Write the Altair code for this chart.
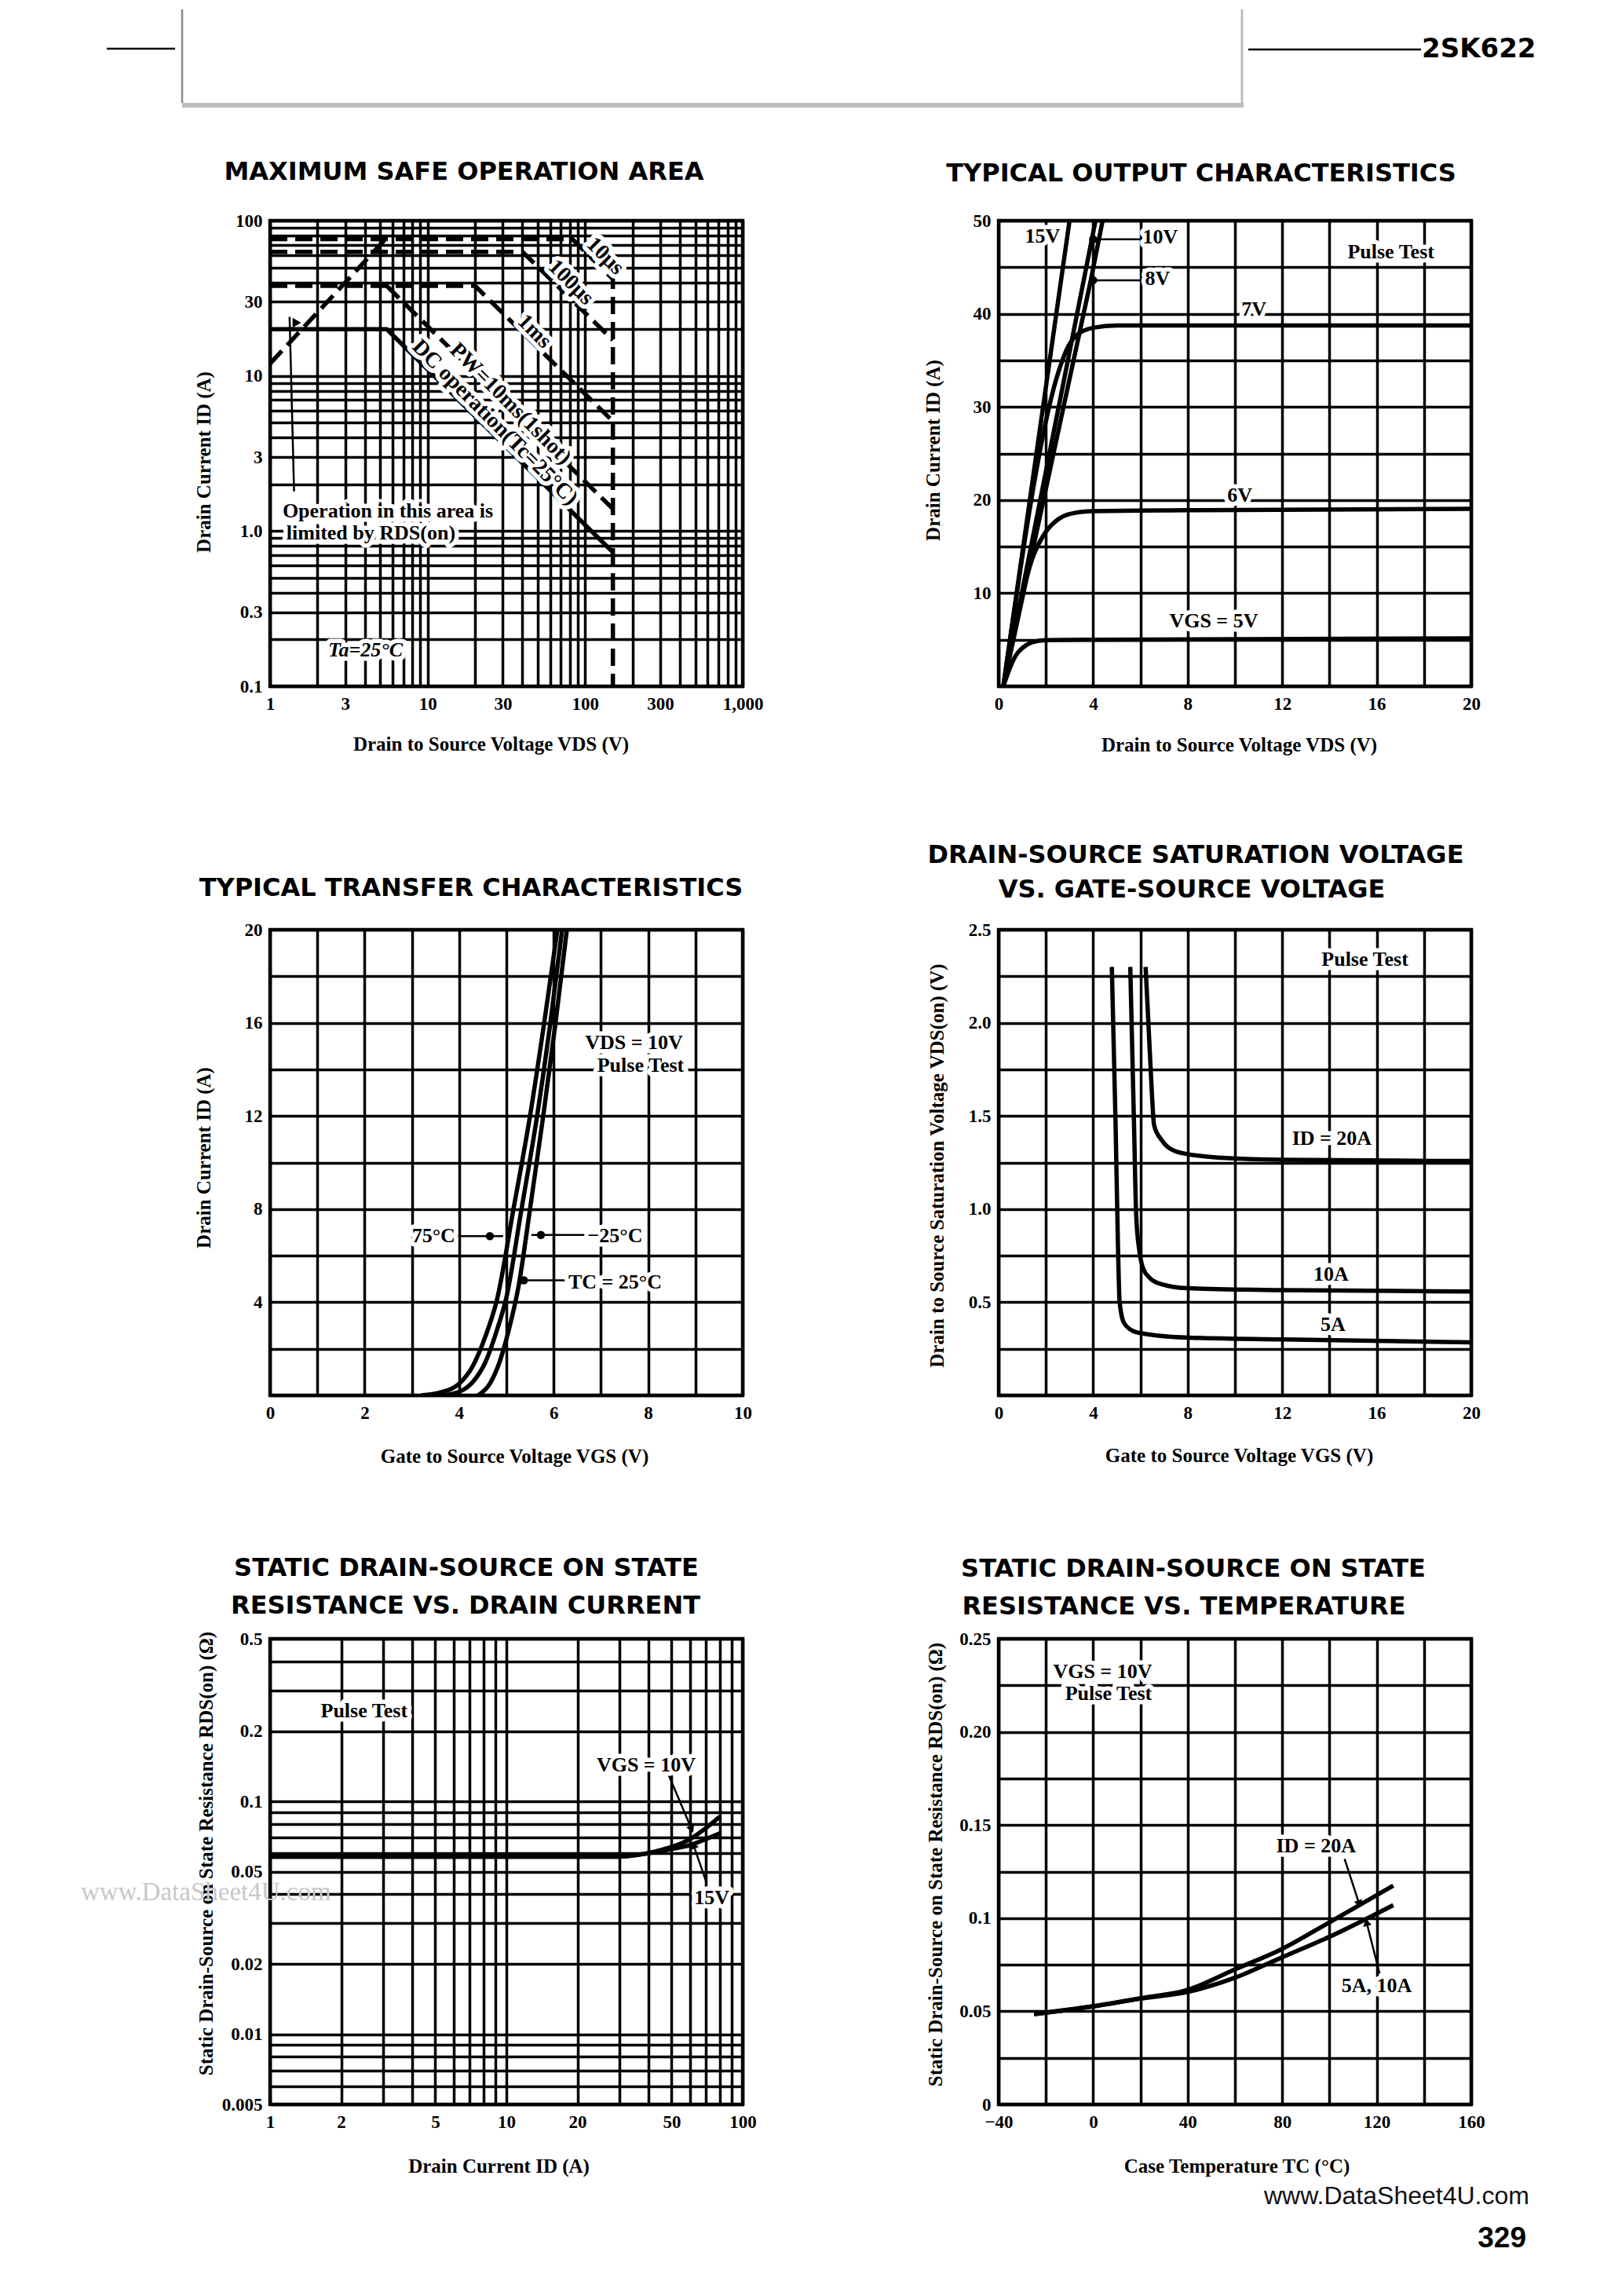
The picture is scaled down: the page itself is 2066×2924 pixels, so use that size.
import altair as alt
import pandas as pd

# ============ DATA ============
# 1. Maximum safe operation area (log-log)
SOA_RDS_V = [1, 5.4]
SOA_RDS_I = [12, 76]
SOA_10US_V = [1, 83, 150, 150]
SOA_10US_I = [76, 76, 42, 0.1]
SOA_100US_V = [1, 40, 150]
SOA_100US_I = [63, 63, 17]
SOA_1MS_V = [1, 20, 150]
SOA_1MS_I = [38, 38, 5.1]
SOA_10MS_V = [5.5, 150]
SOA_10MS_I = [38, 1.39]
SOA_DC_V = [1, 5.5, 150]
SOA_DC_I = [20, 20, 0.73]
SOA_LEAD_V = [1.42, 1.33]
SOA_LEAD_I = [1.8, 24]
SOA_ARROW_V = [1.48]
SOA_ARROW_I = [22]
SOA_ROT_TEXT = ["10μs", "100μs", "1ms", "PW=10ms(1shot)", "DC operation(Tc=25°C)"]
SOA_ROT_V = [134, 81, 47.6, 33.5, 26.7]
SOA_ROT_I = [59, 40, 19.3, 6.6, 5.0]
SOA_NOTE_TEXT = ["Operation in this area is", "limited by RDS(on)"]
SOA_NOTE_V = [1.2, 1.27]
SOA_NOTE_I = [1.35, 0.97]
SOA_TA_TEXT = ["Ta=25°C"]
SOA_TA_V = [4.03]
SOA_TA_I = [0.171]
SOA_X_TICKS = [(1, "1"), (3, "3"), (10, "10"), (30, "30"), (100, "100"), (300, "300"), (1000, "1,000")]
SOA_Y_TICKS = [(100, "100"), (30, "30"), (10, "10"), (3, "3"), (1, "1.0"), (0.3, "0.3"), (0.1, "0.1")]

# 2. Typical output characteristics
OUT_5V_V = [0.2, 0.45, 0.7, 1.0, 1.4, 2.0, 4.0, 20]
OUT_5V_I = [0, 1.8, 3.2, 4.1, 4.7, 4.95, 5.0, 5.15]
OUT_6V_V = [0.2, 1.5, 2.0, 2.5, 3.0, 4.0, 8.0, 20]
OUT_6V_I = [0, 14.2, 16.6, 17.9, 18.5, 18.8, 18.9, 19.05]
OUT_7V_V = [0.2, 2.5, 2.85, 3.3, 4.0, 5.0, 20]
OUT_7V_I = [0, 33.5, 36.0, 37.7, 38.5, 38.75, 38.75]
OUT_8V_V = [0.2, 3.9, 4.4]
OUT_8V_I = [0, 43.6, 50]
OUT_10V_V = [0.2, 4.1]
OUT_10V_I = [0, 50]
OUT_15V_V = [0.2, 3.0]
OUT_15V_I = [0, 50]
OUT_LEAD10_V = [4.0, 6.0]
OUT_LEAD10_I = [48, 48]
OUT_LEAD8_V = [4.0, 6.0]
OUT_LEAD8_I = [43.6, 43.6]
OUT_DOT_V = [4.0, 4.0]
OUT_DOT_I = [48, 43.6]
OUT_C_TEXT = ["15V", "7V", "6V", "VGS = 5V", "Pulse Test"]
OUT_C_V = [1.86, 10.8, 10.2, 9.1, 16.6]
OUT_C_I = [48.3, 40.5, 20.5, 7.0, 46.6]
OUT_L_TEXT = ["10V", "8V"]
OUT_L_V = [6.1, 6.2]
OUT_L_I = [48.2, 43.8]
OUT_X_TICKS = [(0, "0"), (4, "4"), (8, "8"), (12, "12"), (16, "16"), (20, "20")]
OUT_Y_TICKS = [(10, "10"), (20, "20"), (30, "30"), (40, "40"), (50, "50")]

# 3. Typical transfer characteristics
TR_75_V = [3.2, 3.6, 4.0, 4.3, 4.55, 4.8, 5.15, 5.5, 5.8, 6.08]
TR_75_I = [0, 0.12, 0.5, 1.3, 2.5, 4.1, 8, 12, 16, 20]
TR_25_V = [3.65, 4.0, 4.3, 4.55, 4.8, 5.0, 5.32, 5.65, 5.93, 6.18]
TR_25_I = [0, 0.15, 0.6, 1.4, 2.8, 4.2, 8, 12, 16, 20]
TR_M25_V = [4.4, 4.65, 4.85, 5.05, 5.25, 5.5, 5.78, 6.04, 6.28]
TR_M25_I = [0, 0.5, 1.4, 2.8, 4.6, 8, 12, 16, 20]
TR_LEAD75_V = [3.98, 4.93]
TR_LEAD75_I = [6.84, 6.84]
TR_LEADM25_V = [5.53, 6.84]
TR_LEADM25_I = [6.89, 6.89]
TR_LEAD25_V = [5.29, 6.52]
TR_LEAD25_I = [4.94, 4.94]
TR_DOT_V = [4.65, 5.73, 5.37]
TR_DOT_I = [6.84, 6.89, 4.94]
TR_TEXT = ["VDS = 10V", "Pulse Test", "75°C", "−25°C", "TC = 25°C"]
TR_TEXT_V = [7.7, 7.84, 3.46, 7.3, 7.3]
TR_TEXT_I = [15.15, 14.16, 6.84, 6.85, 4.85]
TR_X_TICKS = [(0, "0"), (2, "2"), (4, "4"), (6, "6"), (8, "8"), (10, "10")]
TR_Y_TICKS = [(4, "4"), (8, "8"), (12, "12"), (16, "16"), (20, "20")]

# 4. Drain-source saturation voltage vs gate-source voltage
SAT_5A_V = [4.79, 4.95, 5.05, 5.12, 5.3, 5.7, 6.2, 8, 12, 20]
SAT_5A_D = [2.3, 1.45, 0.8, 0.5, 0.39, 0.345, 0.33, 0.31, 0.30, 0.285]
SAT_10A_V = [5.57, 5.73, 5.82, 5.95, 6.12, 6.4, 6.8, 8, 12, 20]
SAT_10A_D = [2.3, 1.45, 0.97, 0.78, 0.68, 0.63, 0.6, 0.575, 0.565, 0.558]
SAT_20A_V = [6.22, 6.43, 6.58, 6.9, 7.5, 9, 12, 20]
SAT_20A_D = [2.3, 1.76, 1.45, 1.37, 1.31, 1.28, 1.265, 1.258]
SAT_TEXT = ["Pulse Test", "ID = 20A", "10A", "5A"]
SAT_TEXT_V = [15.5, 14.1, 14.07, 14.15]
SAT_TEXT_D = [2.34, 1.38, 0.65, 0.38]
SAT_X_TICKS = [(0, "0"), (4, "4"), (8, "8"), (12, "12"), (16, "16"), (20, "20")]
SAT_Y_TICKS = [(0.5, "0.5"), (1, "1.0"), (1.5, "1.5"), (2, "2.0"), (2.5, "2.5")]

# 5. On-state resistance vs drain current (log-log)
RI_I = [1, 10, 30, 38, 48, 60, 70, 80]
RI_R10 = [0.058, 0.058, 0.058, 0.0595, 0.063, 0.069, 0.077, 0.086]
RI_R15 = [0.058, 0.058, 0.058, 0.0595, 0.062, 0.065, 0.069, 0.073]
RI_LEAD10_I = [48.6, 60.8]
RI_LEAD10_R = [0.13, 0.076]
RI_LEAD15_I = [70, 61.9]
RI_LEAD15_R = [0.0453, 0.065]
RI_TEXT = ["Pulse Test", "VGS = 10V", "15V"]
RI_TEXT_I = [2.5, 39, 74]
RI_TEXT_R = [0.244, 0.143, 0.0385]
RI_X_TICKS = [(1, "1"), (2, "2"), (5, "5"), (10, "10"), (20, "20"), (50, "50"), (100, "100")]
RI_Y_TICKS = [(0.5, "0.5"), (0.2, "0.2"), (0.1, "0.1"), (0.05, "0.05"), (0.02, "0.02"), (0.01, "0.01"), (0.005, "0.005")]

# 6. On-state resistance vs temperature
RT_T = [-25, 0, 20, 40, 60, 80, 100, 127]
RT_R20 = [0.0485, 0.0527, 0.057, 0.0615, 0.0725, 0.0835, 0.0978, 0.1175]
RT_R10 = [0.0485, 0.0527, 0.0568, 0.0604, 0.068, 0.079, 0.090, 0.107]
RT_LEAD20_T = [106.4, 112.6]
RT_LEAD20_R = [0.1318, 0.1076]
RT_LEAD10_T = [121.2, 115.7]
RT_LEAD10_R = [0.0703, 0.0978]
RT_TEXT = ["VGS = 10V", "Pulse Test", "ID = 20A", "5A, 10A"]
RT_TEXT_T = [4, 6.5, 94.3, 120]
RT_TEXT_R = [0.2324, 0.2203, 0.1388, 0.0637]
RT_X_TICKS = [(-40, "−40"), (0, "0"), (40, "40"), (80, "80"), (120, "120"), (160, "160")]
RT_Y_TICKS = [(0.25, "0.25"), (0.2, "0.20"), (0.15, "0.15"), (0.1, "0.1"), (0.05, "0.05"), (0, "0")]

# ============ STYLE / HELPERS ============
SERIF = "Liberation Serif"
SANS = "DejaVu Sans"
W, H = 602, 593
GRID_W = 3.5
CURVE_W = 5.5
LABEL_FS = 23
NOTE_FS = 26
TITLE_FS = 32
AXTITLE_FS = 25


def rnd(v):
    return round(v, 6)


def log_grid(lo, hi):
    vals = []
    for e in range(-4, 4):
        for k in range(1, 10):
            v = rnd(k * 10.0 ** e)
            if lo - 1e-12 <= v <= hi + 1e-12:
                vals.append(v)
    return sorted(set(vals))


def lin_grid(lo, hi, step):
    n = int(round((hi - lo) / step))
    return [rnd(lo + i * step) for i in range(n + 1)]


def label_expr(ticks):
    parts = [f"datum.value == {v!r} ? '{s}'" for v, s in ticks]
    return " : ".join(parts) + " : ''"


def make_axis(orient, grid_vals, ticks, title, tpos, tcenter=None, fs=LABEL_FS):
    kw = dict(values=grid_vals, labelExpr=label_expr(ticks), grid=True,
              gridColor="black", gridWidth=GRID_W, gridOpacity=1,
              domain=False, ticks=False, tickSize=0,
              labelFont=SERIF, labelFontWeight="bold", labelFontSize=fs,
              labelColor="black", labelOverlap=False, labelFlush=False,
              labelBound=False, title=title, titleFont=SERIF,
              titleFontWeight="bold", titleFontSize=AXTITLE_FS,
              titleColor="black", titleAlign="center", titleBaseline="middle")
    if orient == "left":
        kw.update(labelPadding=10, titleAngle=270, titleX=-tpos,
                  titleY=(H / 2 if tcenter is None else tcenter))
    else:
        kw.update(labelPadding=11, titleAngle=0, titleY=tpos,
                  titleX=(W / 2 if tcenter is None else tcenter))
    return alt.Axis(**kw)


class Ctx:
    def __init__(self, xs, ys, xa, ya):
        self.xs, self.ys, self.xa, self.ya = xs, ys, xa, ya

    def enc(self):
        return dict(x=alt.X("x:Q", scale=self.xs, axis=self.xa),
                    y=alt.Y("y:Q", scale=self.ys, axis=self.ya))


def curve(c, xs, ys, dash=None, width=CURVE_W, interp="linear"):
    df = pd.DataFrame({"x": xs, "y": ys, "o": list(range(len(xs)))})
    kw = dict(color="black", strokeWidth=width, interpolate=interp,
              strokeCap="butt", strokeJoin="round", clip=True)
    if dash:
        kw["strokeDash"] = dash
    return alt.Chart(df).mark_line(**kw).encode(order="o:Q", **c.enc())


def texts(c, labels, xs, ys, size=NOTE_FS, align="center", angle=0,
          style="normal", halo=True):
    df = pd.DataFrame({"x": xs, "y": ys, "t": labels})
    base = alt.Chart(df).encode(text="t:N", **c.enc())
    kw = dict(font=SERIF, fontSize=size, fontWeight="bold", fontStyle=style,
              align=align, baseline="middle", angle=angle)
    out = []
    if halo:
        out.append(base.mark_text(color="white", stroke="white",
                                  strokeWidth=11, strokeJoin="round", **kw))
    out.append(base.mark_text(color="black", **kw))
    return out


def dots(c, xs, ys, shape="circle", size=110, angle=0):
    df = pd.DataFrame({"x": xs, "y": ys})
    return alt.Chart(df).mark_point(shape=shape, filled=True, size=size,
                                    color="black", opacity=1,
                                    angle=angle).encode(**c.enc())


def px_rule(x, y, x2=None, y2=None, color="black", width=2):
    enc = dict(x=alt.value(x), y=alt.value(y))
    if x2 is not None:
        enc["x2"] = alt.value(x2)
    if y2 is not None:
        enc["y2"] = alt.value(y2)
    return alt.Chart(pd.DataFrame({"k": [0]})).mark_rule(
        color=color, strokeWidth=width).encode(**enc)


def px_text(s, x, y, size, font=SANS, weight="bold", align="center",
            color="black"):
    return alt.Chart(pd.DataFrame({"t": [s]})).mark_text(
        font=font, fontSize=size, fontWeight=weight, align=align,
        baseline="middle", color=color).encode(
        x=alt.value(x), y=alt.value(y), text="t:N")


def panel(layers):
    return alt.layer(*layers).properties(width=W, height=H)


DASH = [22, 10]

# ============ CHART 1 ============
k1 = Ctx(alt.Scale(type="log", domain=[1, 1000], nice=False),
         alt.Scale(type="log", domain=[0.1, 100], nice=False),
         make_axis("bottom", log_grid(1, 1000), SOA_X_TICKS,
                   "Drain to Source Voltage VDS (V)", 73, 281),
         make_axis("left", log_grid(0.1, 100), SOA_Y_TICKS,
                   "Drain Current ID (A)", 85, 307))
c1 = panel([
    curve(k1, SOA_DC_V, SOA_DC_I),
    curve(k1, SOA_RDS_V, SOA_RDS_I, dash=DASH),
    curve(k1, SOA_10US_V, SOA_10US_I, dash=DASH),
    curve(k1, SOA_100US_V, SOA_100US_I, dash=DASH),
    curve(k1, SOA_1MS_V, SOA_1MS_I, dash=DASH),
    curve(k1, SOA_10MS_V, SOA_10MS_I, dash=DASH),
    curve(k1, SOA_LEAD_V, SOA_LEAD_I, width=2.5),
    dots(k1, SOA_ARROW_V, SOA_ARROW_I, shape="triangle-right", size=160),
    *texts(k1, SOA_ROT_TEXT, SOA_ROT_V, SOA_ROT_I, size=28, angle=45),
    *texts(k1, SOA_NOTE_TEXT, SOA_NOTE_V, SOA_NOTE_I, size=26, align="left"),
    *texts(k1, SOA_TA_TEXT, SOA_TA_V, SOA_TA_I, size=26, style="italic"),
    px_text("MAXIMUM SAFE OPERATION AREA", 247, -62, TITLE_FS),
    # page header
    px_rule(-112, -269, y2=-150, color="#8a8a8a", width=2.5),
    px_rule(1238, -269, y2=-150, color="#bdbdbd", width=3),
    px_rule(-112, -147, x2=1240, color="#bdbdbd", width=6),
    px_rule(-208, -219, x2=-121, color="black", width=2.5),
    px_rule(1246, -218, x2=1466, color="black", width=2.5),
    px_text("2SK622", 1467, -218, 34, align="left"),
])

# ============ CHART 2 ============
k2 = Ctx(alt.Scale(domain=[0, 20], nice=False, zero=False),
         alt.Scale(domain=[0, 50], nice=False, zero=False),
         make_axis("bottom", lin_grid(0, 20, 2), OUT_X_TICKS,
                   "Drain to Source Voltage VDS (V)", 74, 306),
         make_axis("left", lin_grid(0, 50, 5), OUT_Y_TICKS,
                   "Drain Current ID (A)", 84, 292))
c2 = panel([
    curve(k2, OUT_5V_V, OUT_5V_I, interp="monotone"),
    curve(k2, OUT_6V_V, OUT_6V_I, interp="monotone"),
    curve(k2, OUT_7V_V, OUT_7V_I, interp="monotone"),
    curve(k2, OUT_8V_V, OUT_8V_I),
    curve(k2, OUT_10V_V, OUT_10V_I),
    curve(k2, OUT_15V_V, OUT_15V_I),
    curve(k2, OUT_LEAD10_V, OUT_LEAD10_I, width=2.5),
    curve(k2, OUT_LEAD8_V, OUT_LEAD8_I, width=2.5),
    dots(k2, OUT_DOT_V, OUT_DOT_I),
    *texts(k2, OUT_C_TEXT, OUT_C_V, OUT_C_I),
    *texts(k2, OUT_L_TEXT, OUT_L_V, OUT_L_I, align="left"),
    px_text("TYPICAL OUTPUT CHARACTERISTICS", 258, -60, TITLE_FS),
])

# ============ CHART 3 ============
k3 = Ctx(alt.Scale(domain=[0, 10], nice=False, zero=False),
         alt.Scale(domain=[0, 20], nice=False, zero=False),
         make_axis("bottom", lin_grid(0, 10, 1), TR_X_TICKS,
                   "Gate to Source Voltage VGS (V)", 77, 311),
         make_axis("left", lin_grid(0, 20, 2), TR_Y_TICKS,
                   "Drain Current ID (A)", 85, 290))
c3 = panel([
    curve(k3, TR_75_V, TR_75_I, interp="monotone"),
    curve(k3, TR_25_V, TR_25_I, interp="monotone"),
    curve(k3, TR_M25_V, TR_M25_I, interp="monotone"),
    curve(k3, TR_LEAD75_V, TR_LEAD75_I, width=2.5),
    curve(k3, TR_LEADM25_V, TR_LEADM25_I, width=2.5),
    curve(k3, TR_LEAD25_V, TR_LEAD25_I, width=2.5),
    dots(k3, TR_DOT_V, TR_DOT_I),
    *texts(k3, TR_TEXT, TR_TEXT_V, TR_TEXT_I),
    px_text("TYPICAL TRANSFER CHARACTERISTICS", 256, -53, TITLE_FS),
])

# ============ CHART 4 ============
k4 = Ctx(alt.Scale(domain=[0, 20], nice=False, zero=False),
         alt.Scale(domain=[0, 2.5], nice=False, zero=False),
         make_axis("bottom", lin_grid(0, 20, 2), SAT_X_TICKS,
                   "Gate to Source Voltage VGS (V)", 76, 306),
         make_axis("left", lin_grid(0, 2.5, 0.25), SAT_Y_TICKS,
                   "Drain to Source Saturation Voltage VDS(on) (V)", 79, 300))
c4 = panel([
    curve(k4, SAT_5A_V, SAT_5A_D, interp="monotone"),
    curve(k4, SAT_10A_V, SAT_10A_D, interp="monotone"),
    curve(k4, SAT_20A_V, SAT_20A_D, interp="monotone"),
    *texts(k4, SAT_TEXT, SAT_TEXT_V, SAT_TEXT_D),
    px_text("DRAIN-SOURCE SATURATION VOLTAGE", 251, -95, TITLE_FS),
    px_text("VS. GATE-SOURCE VOLTAGE", 246, -51, TITLE_FS),
])

# ============ CHART 5 ============
k5 = Ctx(alt.Scale(type="log", domain=[1, 100], nice=False),
         alt.Scale(type="log", domain=[0.005, 0.5], nice=False),
         make_axis("bottom", log_grid(1, 100), RI_X_TICKS,
                   "Drain Current ID (A)", 78, 291),
         make_axis("left", log_grid(0.005, 0.5), RI_Y_TICKS,
                   "Static Drain-Source on State Resistance RDS(on) (Ω)", 82, 273))
c5 = panel([
    curve(k5, RI_I, RI_R10, interp="monotone"),
    curve(k5, RI_I, RI_R15, interp="monotone"),
    curve(k5, RI_LEAD10_I, RI_LEAD10_R, width=2.5),
    curve(k5, RI_LEAD15_I, RI_LEAD15_R, width=2.5),
    dots(k5, RI_LEAD10_I[1:], RI_LEAD10_R[1:], shape="triangle-down", size=120, angle=337),
    dots(k5, RI_LEAD15_I[1:], RI_LEAD15_R[1:], shape="triangle-up", size=120, angle=340),
    *texts(k5, RI_TEXT, RI_TEXT_I, RI_TEXT_R),
    px_text("STATIC DRAIN-SOURCE ON STATE", 250, -90, TITLE_FS),
    px_text("RESISTANCE VS. DRAIN CURRENT", 249, -42, TITLE_FS),
    px_text("www.DataSheet4U.com", -241, 323, 33, font=SERIF, weight="normal",
            align="left", color="#c8c8c8"),
])

# ============ CHART 6 ============
k6 = Ctx(alt.Scale(domain=[-40, 160], nice=False, zero=False),
         alt.Scale(domain=[0, 0.25], nice=False, zero=False),
         make_axis("bottom", lin_grid(-40, 160, 20), RT_X_TICKS,
                   "Case Temperature TC (°C)", 78, 303),
         make_axis("left", lin_grid(0, 0.25, 0.025), RT_Y_TICKS,
                   "Static Drain-Source on State Resistance RDS(on) (Ω)", 81, 287))
c6 = panel([
    curve(k6, RT_T, RT_R20, interp="monotone"),
    curve(k6, RT_T, RT_R10, interp="monotone"),
    curve(k6, RT_LEAD20_T, RT_LEAD20_R, width=2.5),
    curve(k6, RT_LEAD10_T, RT_LEAD10_R, width=2.5),
    dots(k6, RT_LEAD20_T[1:], RT_LEAD20_R[1:], shape="triangle-down", size=120, angle=341),
    dots(k6, RT_LEAD10_T[1:], RT_LEAD10_R[1:], shape="triangle-up", size=120, angle=346),
    *texts(k6, RT_TEXT, RT_TEXT_T, RT_TEXT_R),
    px_text("STATIC DRAIN-SOURCE ON STATE", 248, -89, TITLE_FS),
    px_text("RESISTANCE VS. TEMPERATURE", 236, -41, TITLE_FS),
    px_text("www.DataSheet4U.com", 338, 710, 32, font="Liberation Sans",
            weight="normal", align="left", color="#111111"),
    px_text("329", 672, 764, 37, font="Liberation Sans", align="right"),
])

chart = alt.concat(
    c1, c2, c3, c4, c5, c6, columns=2,
    spacing={"row": 310, "column": 326}, bounds="flush",
).properties(
    padding={"left": 92, "top": 0, "right": 10, "bottom": 10},
    background="white",
).configure_view(stroke="black", strokeWidth=4.5)

chart.save("out.html", embed_options={"renderer": "svg", "actions": False})
